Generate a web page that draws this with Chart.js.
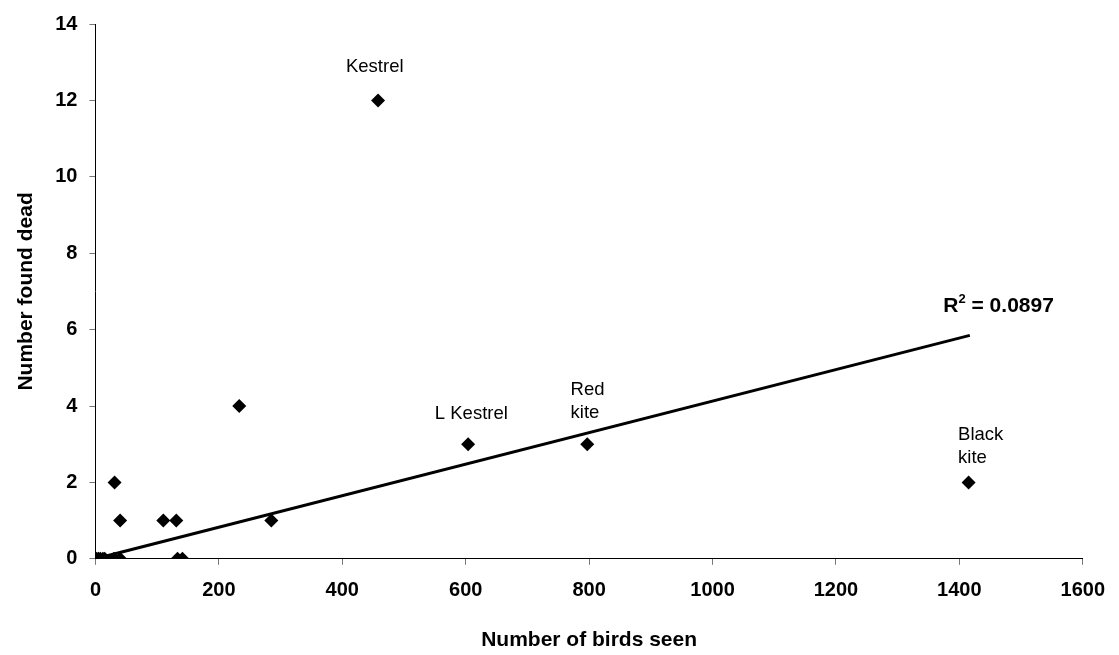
<!DOCTYPE html>
<html>
<head>
<meta charset="utf-8">
<script src="https://cdn.jsdelivr.net/npm/chart.js@4/dist/chart.umd.min.js"></script>
<style>
  html, body { margin: 0; padding: 0; background: #fff; }
  #wrap { width: 1119px; height: 655px; position: relative; }
</style>
</head>
<body>
<div id="wrap"><canvas id="chart"></canvas></div>
<script>
// birds seen vs. found dead
const birdsSeen = [458, 233, 604, 797, 1415, 285, 31, 40, 110, 131, 2, 5, 8, 12, 15, 30, 40, 133, 141];
const foundDead = [12, 4, 3, 3, 2, 1, 2, 1, 1, 1, 0, 0, 0, 0, 0, 0, 0, 0, 0];

// trend line ends
const trendX = [0, 1417];
const trendY = [0, 5.85];

// point labels (left edge, baseline of first line)
const labelText = [['Kestrel'], ['L Kestrel'], ['Red', 'kite'], ['Black', 'kite']];
const labelX = [406, 550, 770, 1398];
const labelY = [12.74, 3.65, 4.28, 3.10];

const r2Text = '0.0897';
const r2X = 1374;
const r2Y = 6.47;

const xTicks = [0, 200, 400, 600, 800, 1000, 1200, 1400, 1600];
const yTicks = [0, 2, 4, 6, 8, 10, 12, 14];

const pts = birdsSeen.map((x, i) => ({ x: x, y: foundDead[i] }));
const trend = trendX.map((x, i) => ({ x: x, y: trendY[i] }));

const FONT = '"Liberation Sans", Arial, sans-serif';

// draw text labels at data positions
const labelPlugin = {
    id: 'birdLabels',
    afterDatasetsDraw(chart) {
        const ctx = chart.ctx;
        const xs = chart.scales.x, ys = chart.scales.y;
        ctx.save();
        ctx.fillStyle = '#000';
        ctx.font = '18.5px ' + FONT;
        ctx.textAlign = 'left';
        ctx.textBaseline = 'alphabetic';
        labelText.forEach((lines, i) => {
            const px = xs.getPixelForValue(labelX[i]);
            const py = ys.getPixelForValue(labelY[i]);
            lines.forEach((t, j) => {
                ctx.fillText(t, px, py + j * 23);
            });
        });
        // R squared
        let rx = xs.getPixelForValue(r2X);
        const ry = ys.getPixelForValue(r2Y);
        ctx.font = 'bold 21px ' + FONT;
        ctx.fillText('R', rx, ry);
        rx += ctx.measureText('R').width;
        ctx.font = 'bold 13px ' + FONT;
        ctx.fillText('2', rx, ry - 9);
        rx += ctx.measureText('2').width;
        ctx.font = 'bold 21px ' + FONT;
        ctx.fillText(' = ' + r2Text, rx, ry);
        ctx.restore();
    }
};

const canvas = document.getElementById('chart');
new Chart(canvas.getContext('2d'), {
    type: 'scatter',
    data: {
        datasets: [{
            label: 'Birds',
            data: pts,
            pointStyle: 'rectRot',
            pointRadius: 7,
            backgroundColor: '#000',
            borderColor: '#000',
            borderWidth: 0,
            order: 1
        }, {
            label: 'Trend',
            type: 'line',
            data: trend,
            borderColor: '#000',
            borderWidth: 3,
            pointRadius: 0,
            fill: false,
            order: 2
        }]
    },
    options: {
        responsive: true,
        maintainAspectRatio: false,
        animation: false,
        layout: { padding: { top: 4, right: 32, left: 10, bottom: 0 } },
        plugins: { legend: { display: false }, tooltip: { enabled: false } },
        scales: {
            x: {
                type: 'linear',
                min: 0, max: 1600,
                afterBuildTicks: (s) => { s.ticks = xTicks.map(v => ({ value: v })); },
                border: { display: true, color: '#000', width: 1 },
                grid: { display: true, drawOnChartArea: false, drawTicks: true, tickLength: 6, color: '#777' },
                ticks: { color: '#000', padding: 14, maxRotation: 0, callback: (v) => String(v),
                         font: { family: FONT, size: 20, weight: 'bold' } },
                title: { display: true, text: 'Number of birds seen', color: '#000', padding: { top: 11, bottom: 2 },
                         font: { family: FONT, size: 21, weight: 'bold' } }
            },
            y: {
                type: 'linear',
                min: 0, max: 14,
                afterBuildTicks: (s) => { s.ticks = yTicks.map(v => ({ value: v })); },
                border: { display: true, color: '#000', width: 1 },
                grid: { display: true, drawOnChartArea: false, drawTicks: true, tickLength: 6, color: '#777' },
                ticks: { color: '#000', padding: 12, callback: (v) => String(v),
                         font: { family: FONT, size: 20, weight: 'bold' } },
                title: { display: true, text: 'Number found dead', color: '#000', padding: { top: 4, bottom: 4 },
                         font: { family: FONT, size: 21, weight: 'bold' } }
            }
        }
    },
    plugins: [labelPlugin]
});
</script>
</body>
</html>
